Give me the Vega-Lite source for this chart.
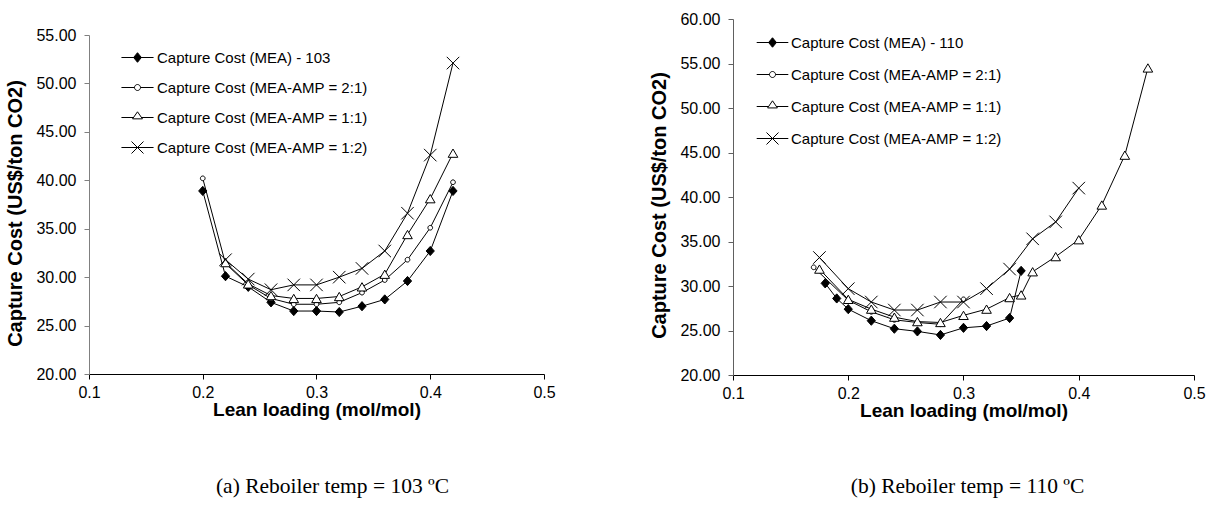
{
  "$schema": "https://vega.github.io/schema/vega-lite/v6.json",
  "padding": {"left": 5, "top": 11, "right": 5, "bottom": 5},
  "spacing": 93,
  "background": "white",
  "config": {
    "view": {"stroke": null},
    "font": "Liberation Sans",
    "axis": {"grid": false, "labelFlush": false, "labelOverlap": false, "labelFont": "Liberation Sans", "labelFontSize": 16, "labelColor": "black", "titleFont": "Liberation Sans", "titleColor": "black", "titleFontWeight": "bold", "tickSize": 5},
    "legend": {"labelFont": "Liberation Sans", "labelColor": "black", "labelLimit": 500}
  },
  "datasets": {
    "left": [
      {"x": 0.20, "y": 38.9, "s": "Capture Cost (MEA) - 103"},
      {"x": 0.22, "y": 30.1, "s": "Capture Cost (MEA) - 103"},
      {"x": 0.24, "y": 29.0, "s": "Capture Cost (MEA) - 103"},
      {"x": 0.26, "y": 27.4, "s": "Capture Cost (MEA) - 103"},
      {"x": 0.28, "y": 26.5, "s": "Capture Cost (MEA) - 103"},
      {"x": 0.30, "y": 26.5, "s": "Capture Cost (MEA) - 103"},
      {"x": 0.32, "y": 26.4, "s": "Capture Cost (MEA) - 103"},
      {"x": 0.34, "y": 27.0, "s": "Capture Cost (MEA) - 103"},
      {"x": 0.36, "y": 27.7, "s": "Capture Cost (MEA) - 103"},
      {"x": 0.38, "y": 29.6, "s": "Capture Cost (MEA) - 103"},
      {"x": 0.40, "y": 32.7, "s": "Capture Cost (MEA) - 103"},
      {"x": 0.42, "y": 38.9, "s": "Capture Cost (MEA) - 103"},
      {"x": 0.20, "y": 40.2, "s": "Capture Cost (MEA-AMP = 2:1)"},
      {"x": 0.22, "y": 31.4, "s": "Capture Cost (MEA-AMP = 2:1)"},
      {"x": 0.24, "y": 29.2, "s": "Capture Cost (MEA-AMP = 2:1)"},
      {"x": 0.26, "y": 27.8, "s": "Capture Cost (MEA-AMP = 2:1)"},
      {"x": 0.28, "y": 27.2, "s": "Capture Cost (MEA-AMP = 2:1)"},
      {"x": 0.30, "y": 27.2, "s": "Capture Cost (MEA-AMP = 2:1)"},
      {"x": 0.32, "y": 27.4, "s": "Capture Cost (MEA-AMP = 2:1)"},
      {"x": 0.34, "y": 28.4, "s": "Capture Cost (MEA-AMP = 2:1)"},
      {"x": 0.36, "y": 29.7, "s": "Capture Cost (MEA-AMP = 2:1)"},
      {"x": 0.38, "y": 31.8, "s": "Capture Cost (MEA-AMP = 2:1)"},
      {"x": 0.40, "y": 35.1, "s": "Capture Cost (MEA-AMP = 2:1)"},
      {"x": 0.42, "y": 39.8, "s": "Capture Cost (MEA-AMP = 2:1)"},
      {"x": 0.22, "y": 31.5, "s": "Capture Cost (MEA-AMP = 1:1)"},
      {"x": 0.24, "y": 29.3, "s": "Capture Cost (MEA-AMP = 1:1)"},
      {"x": 0.26, "y": 28.1, "s": "Capture Cost (MEA-AMP = 1:1)"},
      {"x": 0.28, "y": 27.8, "s": "Capture Cost (MEA-AMP = 1:1)"},
      {"x": 0.30, "y": 27.8, "s": "Capture Cost (MEA-AMP = 1:1)"},
      {"x": 0.32, "y": 28.0, "s": "Capture Cost (MEA-AMP = 1:1)"},
      {"x": 0.34, "y": 29.0, "s": "Capture Cost (MEA-AMP = 1:1)"},
      {"x": 0.36, "y": 30.3, "s": "Capture Cost (MEA-AMP = 1:1)"},
      {"x": 0.38, "y": 34.4, "s": "Capture Cost (MEA-AMP = 1:1)"},
      {"x": 0.40, "y": 38.1, "s": "Capture Cost (MEA-AMP = 1:1)"},
      {"x": 0.42, "y": 42.8, "s": "Capture Cost (MEA-AMP = 1:1)"},
      {"x": 0.22, "y": 31.8, "s": "Capture Cost (MEA-AMP = 1:2)"},
      {"x": 0.24, "y": 29.8, "s": "Capture Cost (MEA-AMP = 1:2)"},
      {"x": 0.26, "y": 28.7, "s": "Capture Cost (MEA-AMP = 1:2)"},
      {"x": 0.28, "y": 29.2, "s": "Capture Cost (MEA-AMP = 1:2)"},
      {"x": 0.30, "y": 29.2, "s": "Capture Cost (MEA-AMP = 1:2)"},
      {"x": 0.32, "y": 30.0, "s": "Capture Cost (MEA-AMP = 1:2)"},
      {"x": 0.34, "y": 30.9, "s": "Capture Cost (MEA-AMP = 1:2)"},
      {"x": 0.36, "y": 32.7, "s": "Capture Cost (MEA-AMP = 1:2)"},
      {"x": 0.38, "y": 36.6, "s": "Capture Cost (MEA-AMP = 1:2)"},
      {"x": 0.40, "y": 42.6, "s": "Capture Cost (MEA-AMP = 1:2)"},
      {"x": 0.42, "y": 52.1, "s": "Capture Cost (MEA-AMP = 1:2)"}
    ],
    "right": [
      {"x": 0.18, "y": 30.3, "s": "Capture Cost (MEA) - 110"},
      {"x": 0.19, "y": 28.6, "s": "Capture Cost (MEA) - 110"},
      {"x": 0.20, "y": 27.4, "s": "Capture Cost (MEA) - 110"},
      {"x": 0.22, "y": 26.1, "s": "Capture Cost (MEA) - 110"},
      {"x": 0.24, "y": 25.2, "s": "Capture Cost (MEA) - 110"},
      {"x": 0.26, "y": 24.9, "s": "Capture Cost (MEA) - 110"},
      {"x": 0.28, "y": 24.5, "s": "Capture Cost (MEA) - 110"},
      {"x": 0.30, "y": 25.3, "s": "Capture Cost (MEA) - 110"},
      {"x": 0.32, "y": 25.5, "s": "Capture Cost (MEA) - 110"},
      {"x": 0.34, "y": 26.4, "s": "Capture Cost (MEA) - 110"},
      {"x": 0.35, "y": 31.7, "s": "Capture Cost (MEA) - 110"},
      {"x": 0.17, "y": 32.1, "s": "Capture Cost (MEA-AMP = 2:1)"},
      {"x": 0.20, "y": 28.4, "s": "Capture Cost (MEA-AMP = 2:1)"},
      {"x": 0.22, "y": 27.1, "s": "Capture Cost (MEA-AMP = 2:1)"},
      {"x": 0.24, "y": 26.2, "s": "Capture Cost (MEA-AMP = 2:1)"},
      {"x": 0.26, "y": 25.9, "s": "Capture Cost (MEA-AMP = 2:1)"},
      {"x": 0.28, "y": 25.7, "s": "Capture Cost (MEA-AMP = 2:1)"},
      {"x": 0.30, "y": 28.5, "s": "Capture Cost (MEA-AMP = 2:1)"},
      {"x": 0.175, "y": 31.9, "s": "Capture Cost (MEA-AMP = 1:1)"},
      {"x": 0.20, "y": 28.5, "s": "Capture Cost (MEA-AMP = 1:1)"},
      {"x": 0.22, "y": 27.4, "s": "Capture Cost (MEA-AMP = 1:1)"},
      {"x": 0.24, "y": 26.5, "s": "Capture Cost (MEA-AMP = 1:1)"},
      {"x": 0.26, "y": 26.0, "s": "Capture Cost (MEA-AMP = 1:1)"},
      {"x": 0.28, "y": 25.9, "s": "Capture Cost (MEA-AMP = 1:1)"},
      {"x": 0.30, "y": 26.7, "s": "Capture Cost (MEA-AMP = 1:1)"},
      {"x": 0.32, "y": 27.4, "s": "Capture Cost (MEA-AMP = 1:1)"},
      {"x": 0.34, "y": 28.7, "s": "Capture Cost (MEA-AMP = 1:1)"},
      {"x": 0.35, "y": 29.0, "s": "Capture Cost (MEA-AMP = 1:1)"},
      {"x": 0.36, "y": 31.6, "s": "Capture Cost (MEA-AMP = 1:1)"},
      {"x": 0.38, "y": 33.3, "s": "Capture Cost (MEA-AMP = 1:1)"},
      {"x": 0.40, "y": 35.2, "s": "Capture Cost (MEA-AMP = 1:1)"},
      {"x": 0.42, "y": 39.1, "s": "Capture Cost (MEA-AMP = 1:1)"},
      {"x": 0.44, "y": 44.7, "s": "Capture Cost (MEA-AMP = 1:1)"},
      {"x": 0.46, "y": 54.5, "s": "Capture Cost (MEA-AMP = 1:1)"},
      {"x": 0.175, "y": 33.2, "s": "Capture Cost (MEA-AMP = 1:2)"},
      {"x": 0.20, "y": 29.7, "s": "Capture Cost (MEA-AMP = 1:2)"},
      {"x": 0.22, "y": 28.2, "s": "Capture Cost (MEA-AMP = 1:2)"},
      {"x": 0.24, "y": 27.3, "s": "Capture Cost (MEA-AMP = 1:2)"},
      {"x": 0.26, "y": 27.3, "s": "Capture Cost (MEA-AMP = 1:2)"},
      {"x": 0.28, "y": 28.2, "s": "Capture Cost (MEA-AMP = 1:2)"},
      {"x": 0.30, "y": 28.2, "s": "Capture Cost (MEA-AMP = 1:2)"},
      {"x": 0.32, "y": 29.7, "s": "Capture Cost (MEA-AMP = 1:2)"},
      {"x": 0.34, "y": 31.9, "s": "Capture Cost (MEA-AMP = 1:2)"},
      {"x": 0.36, "y": 35.3, "s": "Capture Cost (MEA-AMP = 1:2)"},
      {"x": 0.38, "y": 37.2, "s": "Capture Cost (MEA-AMP = 1:2)"},
      {"x": 0.40, "y": 41.0, "s": "Capture Cost (MEA-AMP = 1:2)"}
    ]
  },
  "hconcat": [
    {
      "spacing": 7,
      "vconcat": [
        {"width": 455, "height": 1, "data": {"values": []}, "mark": "point"},
        {
          "width": 455,
          "height": 339,
          "data": {"name": "left"},
          "title": {"text": "(a) Reboiler temp = 103 ºC", "orient": "bottom", "anchor": "middle", "frame": "group", "font": "Liberation Serif", "fontSize": 21.5, "fontWeight": "normal", "color": "black", "offset": 57, "dx": 16},
          "encoding": {
            "x": {"field": "x", "type": "quantitative", "scale": {"domain": [0.1, 0.5], "nice": false, "zero": false},
                  "axis": {"title": "Lean loading (mol/mol)", "values": [0.1, 0.2, 0.3, 0.4, 0.5], "format": ".1f", "domainColor": "black", "tickColor": "black", "labelPadding": 5, "titleFontSize": 19, "titlePadding": 0}},
            "y": {"field": "y", "type": "quantitative", "scale": {"domain": [20, 55], "nice": false, "zero": false},
                  "axis": {"title": "Capture Cost (US$/ton CO2)", "values": [20, 25, 30, 35, 40, 45, 50, 55], "format": ".2f", "domainColor": "#808080", "tickColor": "#808080", "labelPadding": 8, "titleFontSize": 20, "titlePadding": 10, "titleY": 178}}
          },
          "layer": [
            {"mark": {"type": "line", "color": "black", "strokeWidth": 1}, "encoding": {"detail": {"field": "s"}}},
            {
              "mark": {"type": "point", "filled": true, "stroke": "black", "strokeWidth": 1, "opacity": 1, "size": 100},
              "encoding": {
                "shape": {"field": "s", "type": "nominal", "legend": null, "scale": {"domain": ["Capture Cost (MEA) - 103", "Capture Cost (MEA-AMP = 2:1)", "Capture Cost (MEA-AMP = 1:1)", "Capture Cost (MEA-AMP = 1:2)"], "range": ["M0,-0.92L0.82,0L0,0.92L-0.82,0Z", "M0.47,0A0.47,0.47,0,1,1,-0.47,0A0.47,0.47,0,1,1,0.47,0Z", "M0,-0.83L0.96,0.83L-0.96,0.83Z", "M-1.25,-1.25L1.25,1.25M-1.25,1.25L1.25,-1.25"]}},
                "fill": {"field": "s", "type": "nominal", "legend": null, "scale": {"domain": ["Capture Cost (MEA) - 103", "Capture Cost (MEA-AMP = 2:1)", "Capture Cost (MEA-AMP = 1:1)", "Capture Cost (MEA-AMP = 1:2)"], "range": ["black", "white", "white", "white"]}}
              }
            },
            {
              "transform": [{"filter": "false"}],
              "mark": {"type": "point", "filled": true, "stroke": "black", "strokeWidth": 1, "opacity": 1},
              "encoding": {
                "shape": {"field": "s", "type": "nominal",
                  "legend": {"orient": "none", "legendX": 33, "legendY": 7, "title": null, "symbolSize": 900, "symbolStrokeWidth": 1, "symbolStrokeColor": "black", "symbolOpacity": 1, "labelFontSize": 15, "labelOffset": 4, "rowPadding": 6, "padding": 0,
                    "encode": {"symbols": {"update": {"stroke": {"value": "black"}, "strokeWidth": {"value": 1}, "opacity": {"value": 1}}}}},
                  "scale": {"domain": ["Capture Cost (MEA) - 103", "Capture Cost (MEA-AMP = 2:1)", "Capture Cost (MEA-AMP = 1:1)", "Capture Cost (MEA-AMP = 1:2)"],
                    "range": ["M-1.07,0H1.07M0,-0.32L0.26,0L0,0.32L-0.26,0Z", "M-1.07,0H-0.2M0.2,0H1.07M0.2,0A0.2,0.2,0,1,1,-0.2,0A0.2,0.2,0,1,1,0.2,0Z", "M-1.07,0H-0.27M0.27,0H1.07M0,-0.38L0.33,0.09L-0.33,0.09Z", "M-1.07,0H1.07M-0.4,-0.4L0.4,0.4M-0.4,0.4L0.4,-0.4"]}},
                "fill": {"field": "s", "type": "nominal",
                  "legend": {"orient": "none", "legendX": 33, "legendY": 7, "title": null, "symbolSize": 900, "symbolStrokeWidth": 1, "symbolStrokeColor": "black", "symbolOpacity": 1, "labelFontSize": 15, "labelOffset": 4, "rowPadding": 6, "padding": 0,
                    "encode": {"symbols": {"update": {"stroke": {"value": "black"}, "strokeWidth": {"value": 1}, "opacity": {"value": 1}}}}},
                  "scale": {"domain": ["Capture Cost (MEA) - 103", "Capture Cost (MEA-AMP = 2:1)", "Capture Cost (MEA-AMP = 1:1)", "Capture Cost (MEA-AMP = 1:2)"], "range": ["black", "white", "white", "white"]}}
              }
            }
          ],
          "resolve": {"scale": {"shape": "independent", "fill": "independent"}}
        }
      ]
    },
    {
      "width": 461,
      "height": 356,
      "data": {"name": "right"},
      "title": {"text": "(b) Reboiler temp = 110 ºC", "orient": "bottom", "anchor": "middle", "frame": "group", "font": "Liberation Serif", "fontSize": 21.5, "fontWeight": "normal", "color": "black", "offset": 56, "dx": 4},
      "encoding": {
        "x": {"field": "x", "type": "quantitative", "scale": {"domain": [0.1, 0.5], "nice": false, "zero": false},
              "axis": {"title": "Lean loading (mol/mol)", "values": [0.1, 0.2, 0.3, 0.4, 0.5], "format": ".1f", "domainColor": "black", "tickColor": "black", "labelPadding": 5, "titleFontSize": 19, "titlePadding": 0}},
        "y": {"field": "y", "type": "quantitative", "scale": {"domain": [20, 60], "nice": false, "zero": false},
              "axis": {"title": "Capture Cost (US$/ton CO2)", "values": [20, 25, 30, 35, 40, 45, 50, 55, 60], "format": ".2f", "domainColor": "#606060", "tickColor": "#606060", "labelPadding": 8, "titleFontSize": 20, "titlePadding": 10, "titleY": 186}}
      },
      "layer": [
        {"mark": {"type": "line", "color": "black", "strokeWidth": 1}, "encoding": {"detail": {"field": "s"}}},
        {
          "mark": {"type": "point", "filled": true, "stroke": "black", "strokeWidth": 1, "opacity": 1, "size": 100},
          "encoding": {
            "shape": {"field": "s", "type": "nominal", "legend": null, "scale": {"domain": ["Capture Cost (MEA) - 110", "Capture Cost (MEA-AMP = 2:1)", "Capture Cost (MEA-AMP = 1:1)", "Capture Cost (MEA-AMP = 1:2)"], "range": ["M0,-0.92L0.82,0L0,0.92L-0.82,0Z", "M0.47,0A0.47,0.47,0,1,1,-0.47,0A0.47,0.47,0,1,1,0.47,0Z", "M0,-0.83L0.96,0.83L-0.96,0.83Z", "M-1.25,-1.25L1.25,1.25M-1.25,1.25L1.25,-1.25"]}},
            "fill": {"field": "s", "type": "nominal", "legend": null, "scale": {"domain": ["Capture Cost (MEA) - 110", "Capture Cost (MEA-AMP = 2:1)", "Capture Cost (MEA-AMP = 1:1)", "Capture Cost (MEA-AMP = 1:2)"], "range": ["black", "white", "white", "white"]}}
          }
        },
        {
          "transform": [{"filter": "false"}],
          "mark": {"type": "point", "filled": true, "stroke": "black", "strokeWidth": 1, "opacity": 1},
          "encoding": {
            "shape": {"field": "s", "type": "nominal",
              "legend": {"orient": "none", "legendX": 23, "legendY": 7, "title": null, "symbolSize": 1000, "symbolStrokeWidth": 1, "symbolStrokeColor": "black", "symbolOpacity": 1, "labelFontSize": 15, "labelOffset": 2, "rowPadding": 7, "padding": 0,
                "encode": {"symbols": {"update": {"stroke": {"value": "black"}, "strokeWidth": {"value": 1}, "opacity": {"value": 1}}}}},
              "scale": {"domain": ["Capture Cost (MEA) - 110", "Capture Cost (MEA-AMP = 2:1)", "Capture Cost (MEA-AMP = 1:1)", "Capture Cost (MEA-AMP = 1:2)"],
                "range": ["M-1.0,0H1.0M0,-0.3L0.25,0L0,0.3L-0.25,0Z", "M-1.0,0H-0.19M0.19,0H1.0M0.19,0A0.19,0.19,0,1,1,-0.19,0A0.19,0.19,0,1,1,0.19,0Z", "M-1.0,0H-0.26M0.26,0H1.0M0,-0.36L0.31,0.09L-0.31,0.09Z", "M-1.0,0H1.0M-0.38,-0.38L0.38,0.38M-0.38,0.38L0.38,-0.38"]}},
            "fill": {"field": "s", "type": "nominal",
              "legend": {"orient": "none", "legendX": 23, "legendY": 7, "title": null, "symbolSize": 1000, "symbolStrokeWidth": 1, "symbolStrokeColor": "black", "symbolOpacity": 1, "labelFontSize": 15, "labelOffset": 2, "rowPadding": 7, "padding": 0,
                "encode": {"symbols": {"update": {"stroke": {"value": "black"}, "strokeWidth": {"value": 1}, "opacity": {"value": 1}}}}},
              "scale": {"domain": ["Capture Cost (MEA) - 110", "Capture Cost (MEA-AMP = 2:1)", "Capture Cost (MEA-AMP = 1:1)", "Capture Cost (MEA-AMP = 1:2)"], "range": ["black", "white", "white", "white"]}}
          }
        }
      ],
      "resolve": {"scale": {"shape": "independent", "fill": "independent"}}
    }
  ]
}
